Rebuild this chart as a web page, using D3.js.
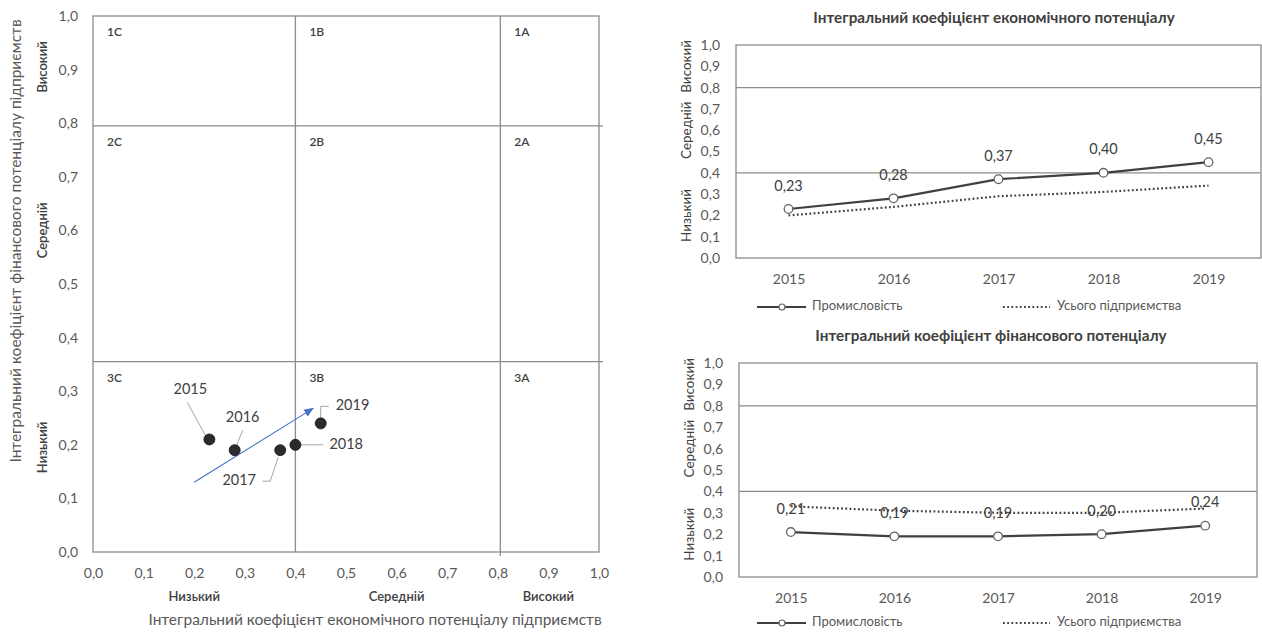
<!DOCTYPE html>
<html><head><meta charset="utf-8">
<script src="https://cdn.jsdelivr.net/npm/d3@7"></script>
<style>
body{margin:0;background:#fff;}
svg text{font-family:Lato,"Open Sans",sans-serif;}
</style></head><body>
<svg id="c" width="1262" height="632"></svg>
<script>
// ---------- data ----------
const years = ["2015","2016","2017","2018","2019"];
const econIndustry = [0.23,0.28,0.37,0.40,0.45];
const econAll = [0.20,0.24,0.29,0.31,0.34];
const finIndustry = [0.21,0.19,0.19,0.20,0.24];
const finAll = [0.33,0.31,0.30,0.30,0.32];
const tickValues = [0,0.1,0.2,0.3,0.4,0.5,0.6,0.7,0.8,0.9,1.0];
const levelNames = ["Низький","Середній","Високий"];
const quadrantRows = ["1","2","3"];
const quadrantCols = ["C","B","A"];
const econBounds = [0.4,0.805];     // economic level boundaries (x)
const finBounds = [0.355,0.795];    // financial level boundaries (y)
const trendFrom = [0.20,0.13];
const trendTo = [0.435,0.268];
const seriesNames = ["Промисловість","Усього підприємства"];
const titleEcon = "Інтегральний коефіцієнт економічного потенціалу";
const titleFin = "Інтегральний коефіцієнт фінансового потенціалу";
const xTitleLeft = "Інтегральний коефіцієнт  економічного потенціалу підприємств";
const yTitleLeft = "Інтегральний коефіцієнт фінансового потенціалу підприємств";

const fmt = d => d3.format(".1f")(d).replace(".", ",");
const fmt2 = d => d3.format(".2f")(d).replace(".", ",");
const svg = d3.select("#c");
const TXT = "#595959", FRAME = "#8c8c8c", DARK = "#404040";

// ---------- left matrix chart ----------
(function(){
  const x = d3.scaleLinear([0,1],[93,599]);
  const y = d3.scaleLinear([0,1],[552,16]);
  const g = svg.append("g");
  const ax = g.append("g").attr("transform",`translate(0,${y(0)})`)
    .call(d3.axisBottom(x).tickValues(tickValues).tickFormat(fmt).tickSize(0).tickPadding(16));
  const ay = g.append("g").attr("transform",`translate(${x(0)},0)`)
    .call(d3.axisLeft(y).tickValues(tickValues).tickFormat(fmt).tickSize(0).tickPadding(15));
  [ax,ay].forEach(a=>{a.select(".domain").remove();
    a.selectAll("text").attr("fill",TXT).style("font-size","14px").style("font-family","Lato");});
  g.append("rect").attr("x",x(0)).attr("y",y(1)).attr("width",x(1)-x(0)).attr("height",y(0)-y(1))
    .attr("fill","none").attr("stroke",FRAME).attr("stroke-width",1.3);
  finBounds.forEach(v=>g.append("line").attr("x1",x(0)).attr("x2",x(1)+4).attr("y1",y(v)).attr("y2",y(v))
    .attr("stroke",FRAME).attr("stroke-width",1.3));
  econBounds.forEach((v,i)=>g.append("line").attr("x1",x(v)).attr("x2",x(v)).attr("y1",y(1)).attr("y2",y(0)+(i===1?4:0))
    .attr("stroke",FRAME).attr("stroke-width",1.3));
  const colStarts = [0].concat(econBounds);
  const rowTops = [1].concat(finBounds.slice().reverse());
  quadrantRows.forEach((r,ri)=>quadrantCols.forEach((c,ci)=>{
    g.append("text").attr("x",x(colStarts[ci])+14).attr("y",y(rowTops[ri])+17)
      .attr("dominant-baseline","middle").attr("fill",DARK).style("font-size","12px").style("font-weight","600").text(r+c);
  }));
  const lvlXpos = [0.2, 0.6, 0.9];
  levelNames.forEach((n,i)=>g.append("text").attr("x",x(lvlXpos[i])).attr("y",598).attr("text-anchor","middle")
    .attr("dominant-baseline","middle").attr("fill",DARK).style("font-size","13px").style("font-weight","600").text(n));
  const lvlYpos = [0.195, 0.6, 0.905];
  levelNames.forEach((n,i)=>g.append("text").attr("transform",`translate(44,${y(lvlYpos[i])}) rotate(-90)`)
    .attr("text-anchor","middle").attr("dominant-baseline","middle").attr("fill",DARK).style("font-size","13px").style("font-weight","600").text(n));
  g.append("text").attr("x",375).attr("y",621).attr("text-anchor","middle").attr("dominant-baseline","middle")
    .attr("fill",TXT).style("font-size","15.5px").text(xTitleLeft);
  g.append("text").attr("transform",`translate(17,241) rotate(-90)`).attr("text-anchor","middle").attr("dominant-baseline","middle")
    .attr("fill",TXT).style("font-size","15.5px").text(yTitleLeft);
  const defs = svg.append("defs");
  defs.append("marker").attr("id","arr").attr("viewBox","0 0 10 10").attr("refX",9).attr("refY",5)
    .attr("markerWidth",9).attr("markerHeight",9).attr("orient","auto")
    .append("path").attr("d","M0,1 L10,5 L0,9 Z").attr("fill","#4472C4");
  g.append("line").attr("x1",x(trendFrom[0])).attr("y1",y(trendFrom[1])).attr("x2",x(trendTo[0])).attr("y2",y(trendTo[1]))
    .attr("stroke","#4472C4").attr("stroke-width",1.1).attr("marker-end","url(#arr)");
  const layout = {
    "2015":{t:[-19,-49,"middle"], p:[[-22,-37],[-4,-4]]},
    "2016":{t:[8,-32,"middle"], p:[[8,-20],[2,-5]]},
    "2017":{t:[-41,31,"middle"], p:[[-18,31],[-10,31],[-2,7]]},
    "2018":{t:[34,1,"start"], p:[[5,0],[28,0]]},
    "2019":{t:[15,-17,"start"], p:[[0,-6],[0,-17],[8,-17]]}
  };
  years.forEach((yr,i)=>{
    const px = x(econIndustry[i]), py = y(finIndustry[i]);
    const L = layout[yr];
    g.append("path").attr("d", d3.line()(L.p.map(q=>[px+q[0],py+q[1]])))
      .attr("fill","none").attr("stroke","#a6a6a6").attr("stroke-width",1);
    g.append("text").attr("x",px+L.t[0]).attr("y",py+L.t[1]).attr("text-anchor",L.t[2])
      .attr("dominant-baseline","middle").attr("fill",DARK).style("font-size","14.5px").text(yr);
  });
  g.selectAll("circle.pt").data(years).join("circle").attr("class","pt")
    .attr("cx",(d,i)=>x(econIndustry[i])).attr("cy",(d,i)=>y(finIndustry[i])).attr("r",5.5)
    .attr("fill","#2b2b2b").attr("stroke","#111").attr("stroke-width",0.8);
})();

// ---------- right line charts ----------
function lineChart(o){
  const x = d3.scalePoint(years,[o.left,o.right]).padding(0.5);
  const y = d3.scaleLinear([0,1],[o.bottom,o.top]);
  const g = svg.append("g");
  g.append("text").attr("x",o.titleX).attr("y",o.titleY).attr("text-anchor","middle").attr("dominant-baseline","middle")
    .attr("fill",DARK).style("font-size","15.3px").style("font-weight","bold").text(o.title);
  const ay = g.append("g").attr("transform",`translate(${o.left},0)`)
    .call(d3.axisLeft(y).tickValues(tickValues).tickFormat(fmt).tickSize(0).tickPadding(16));
  const ax = g.append("g").attr("transform",`translate(0,${o.bottom})`)
    .call(d3.axisBottom(x).tickSize(0).tickPadding(16));
  [ax,ay].forEach(a=>{a.select(".domain").remove();
    a.selectAll("text").attr("fill",TXT).style("font-size","14px").style("font-family","Lato");});
  g.append("rect").attr("x",o.left).attr("y",o.top).attr("width",o.right-o.left).attr("height",o.bottom-o.top)
    .attr("fill","none").attr("stroke",FRAME).attr("stroke-width",1.3);
  [0.4,0.8].forEach(v=>g.append("line").attr("x1",o.left).attr("x2",o.right).attr("y1",y(v)).attr("y2",y(v))
    .attr("stroke",FRAME).attr("stroke-width",1.3));
  const lvl = [0.2,0.6,0.9];
  levelNames.forEach((n,i)=>g.append("text").attr("transform",`translate(${o.left-48},${y(lvl[i])}) rotate(-90)`)
    .attr("text-anchor","middle").attr("dominant-baseline","middle").attr("fill",DARK).style("font-size","13.5px").text(n));
  const line = d3.line().x((d,i)=>x(years[i])).y(d=>y(d));
  g.append("path").attr("d",line(o.all)).attr("fill","none").attr("stroke",DARK).attr("stroke-width",2.2)
    .attr("stroke-dasharray","1.8,2.4");
  g.append("path").attr("d",line(o.ind)).attr("fill","none").attr("stroke",DARK).attr("stroke-width",2.2);
  g.selectAll("circle.m").data(o.ind).join("circle").attr("class","m")
    .attr("cx",(d,i)=>x(years[i])).attr("cy",d=>y(d)).attr("r",4.3)
    .attr("fill","#fff").attr("stroke","#666").attr("stroke-width",1.3);
  g.selectAll("text.lb").data(o.ind).join("text").attr("class","lb")
    .attr("x",(d,i)=>x(years[i])).attr("y",d=>y(d)-22).attr("text-anchor","middle").attr("dominant-baseline","middle")
    .attr("fill",DARK).style("font-size","14.5px").text(fmt2);
  const ly = o.legendY;
  g.append("line").attr("x1",757).attr("x2",806).attr("y1",ly).attr("y2",ly).attr("stroke",DARK).attr("stroke-width",2.2);
  g.append("circle").attr("cx",782).attr("cy",ly).attr("r",3).attr("fill","#fff").attr("stroke","#666").attr("stroke-width",1.2);
  g.append("text").attr("x",812).attr("y",ly).attr("dominant-baseline","middle").attr("fill",TXT).style("font-size","13px").text(seriesNames[0]);
  g.append("line").attr("x1",1003).attr("x2",1050).attr("y1",ly).attr("y2",ly).attr("stroke",DARK).attr("stroke-width",2.2)
    .attr("stroke-dasharray","1.8,2.4");
  g.append("text").attr("x",1057).attr("y",ly).attr("dominant-baseline","middle").attr("fill",TXT).style("font-size","13px").text(seriesNames[1]);
}
lineChart({left:736,right:1261,top:45,bottom:258,title:titleEcon,titleX:994,titleY:19,ind:econIndustry,all:econAll,legendY:307});
lineChart({left:739,right:1257,top:363,bottom:577,title:titleFin,titleX:991,titleY:337,ind:finIndustry,all:finAll,legendY:623});
</script></body></html>
